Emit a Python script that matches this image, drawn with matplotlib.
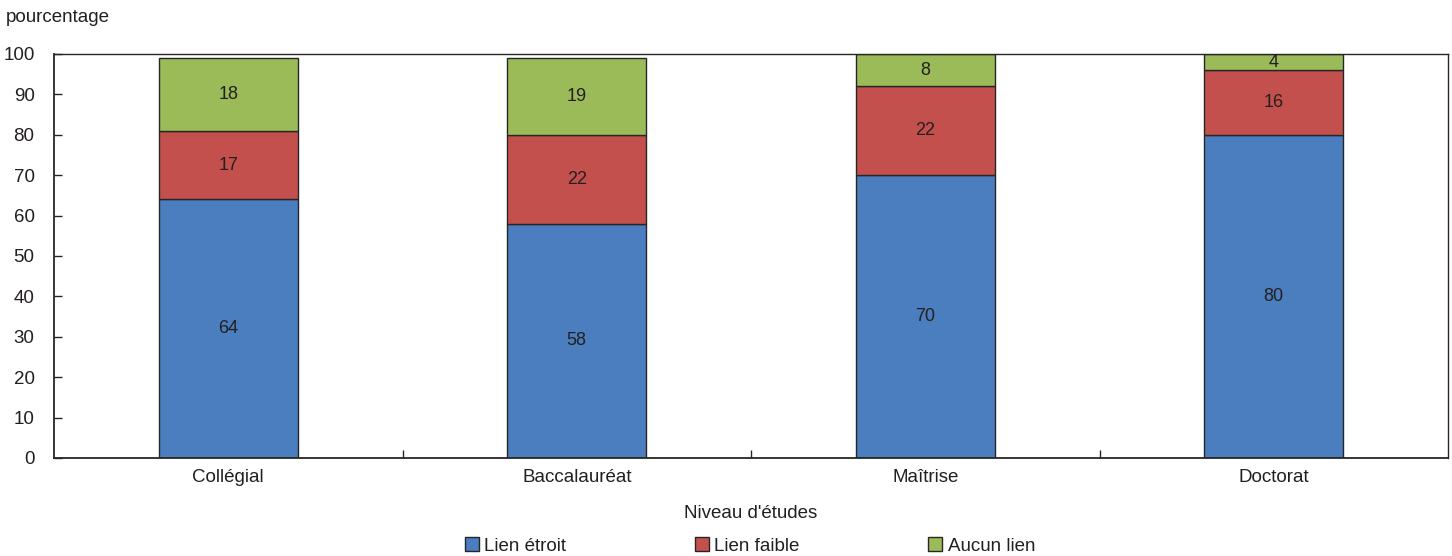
import matplotlib
matplotlib.use("Agg")
import matplotlib.pyplot as plt
from matplotlib import font_manager
import numpy as np

categories = ["Collégial", "Baccalauréat", "Maîtrise", "Doctorat"]
lien_etroit = [64, 58, 70, 80]
lien_faible = [17, 22, 22, 16]
aucun_lien = [18, 19, 8, 4]
series_names = ["Lien étroit", "Lien faible", "Aucun lien"]
colors = ["#4a7ebf", "#c4504d", "#9bbb59"]
yticks = list(range(0, 101, 10))

avail = {f.name for f in font_manager.fontManager.ttflist}
fam = "Liberation Sans Narrow" if "Liberation Sans Narrow" in avail else "Liberation Sans"
plt.rcParams["font.family"] = [fam, "DejaVu Sans"]
txtc = "#231f20"

fig = plt.figure(figsize=(14.52, 5.56), dpi=100)
ax = fig.add_axes([54/1452, 1-458/556, (1448-54)/1452, (458-54)/556])

x = np.arange(len(categories)) + 0.5
bottom = np.zeros(len(categories))
for vals, name, c in zip([lien_etroit, lien_faible, aucun_lien], series_names, colors):
    v = np.array(vals, dtype=float)
    ax.bar(x, v, 0.40, bottom=bottom, color=c, edgecolor="#262626", linewidth=1.0, label=name, zorder=2)
    for xi, b, vi in zip(x, bottom, v):
        ax.text(xi, b + vi/2, f"{int(vi)}", ha="center", va="center", fontsize=13, color=txtc, zorder=3)
    bottom += v

ax.set_xlim(0, len(categories))
ax.set_ylim(0, 100)
ax.set_yticks(yticks)
ax.set_yticklabels([str(t) for t in yticks], fontsize=13.5, color=txtc)
ax.tick_params(axis="y", direction="in", length=6, width=1, color="#262626", pad=14)
ax.set_xticks(np.arange(1, len(categories)))
ax.set_xticklabels([])
ax.tick_params(axis="x", direction="in", length=6, width=1, color="#262626")
for xi, cat in zip(x, categories):
    ax.text(xi, -2.8, cat, ha="center", va="top", fontsize=13.5, color=txtc, transform=ax.transData)

for s in ["left", "bottom"]:
    ax.spines[s].set_color("#262626")
    ax.spines[s].set_linewidth(1.3)
for s in ["top", "right"]:
    ax.spines[s].set_color("#262626")
    ax.spines[s].set_linewidth(1.0)

fig.text(6/1452, 1-18/556, "pourcentage", fontsize=13.5, color=txtc, ha="left", va="center")
fig.text((54+1448)/2/1452, 1-513/556, "Niveau d'études", fontsize=13.5, color=txtc, ha="center", va="center")

h, l = ax.get_legend_handles_labels()
leg = fig.legend(h, l, loc="center", bbox_to_anchor=(750/1452, 1-546/556), ncol=3, frameon=False,
                 fontsize=13.5, handlelength=0.75, handleheight=0.75, handletextpad=0.3, columnspacing=6.85)
for t in leg.get_texts():
    t.set_color(txtc)

fig.savefig("out.png", dpi=100)
